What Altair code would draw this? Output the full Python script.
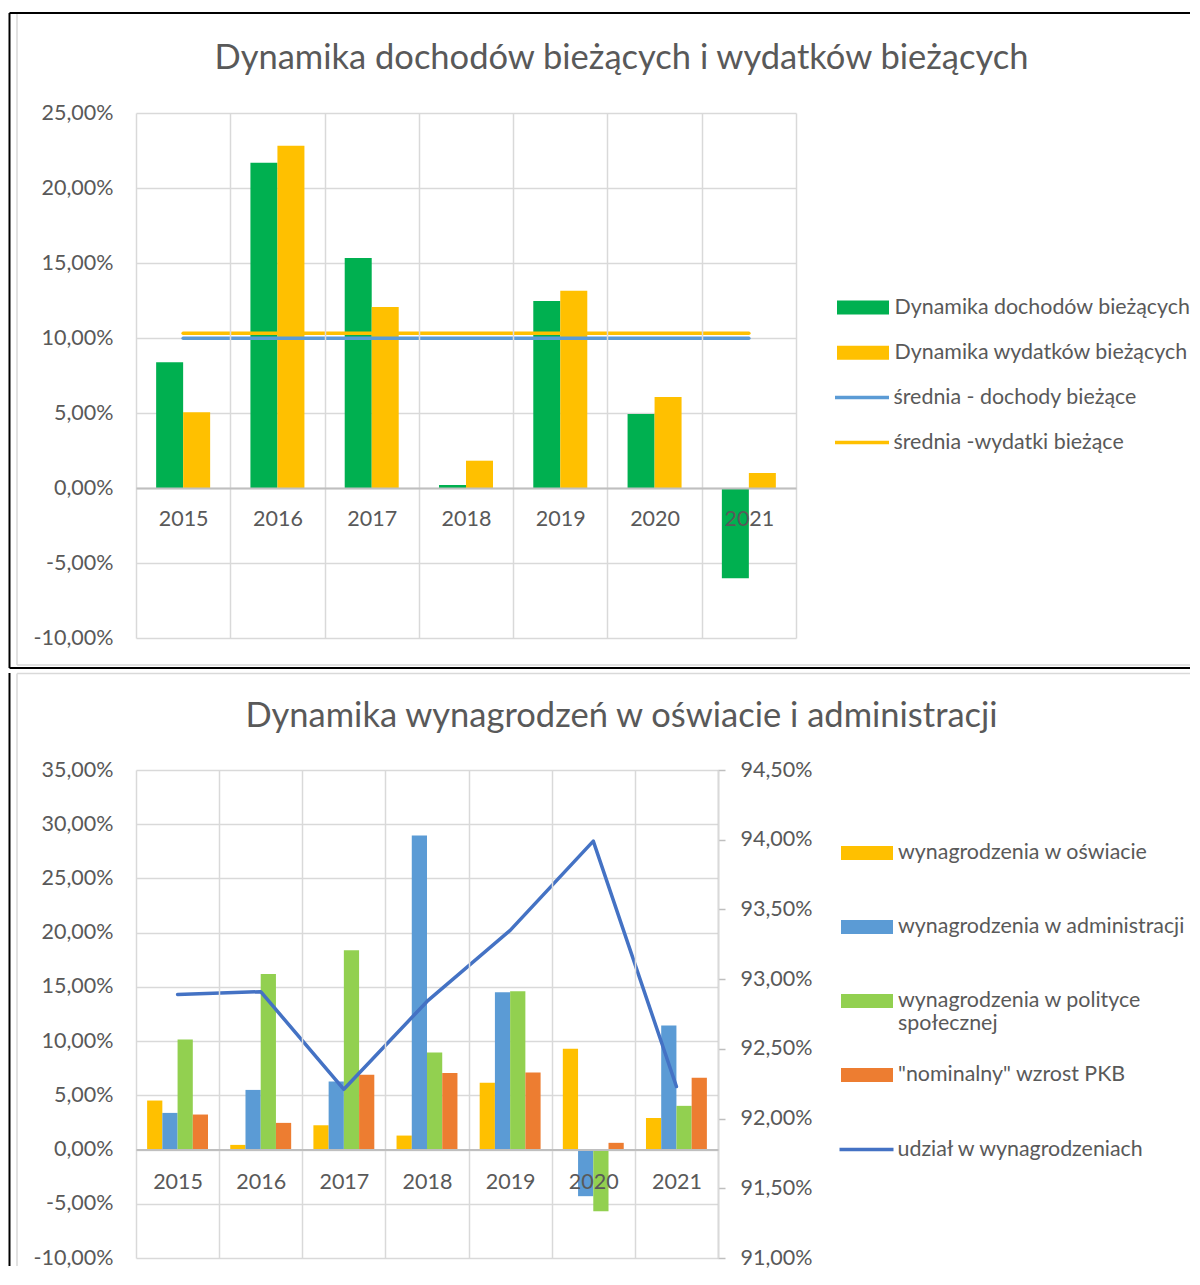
import altair as alt
import pandas as pd

# ---------------- data ----------------
years = ["2015", "2016", "2017", "2018", "2019", "2020", "2021"]

# chart 1
bar1_series = ["Dynamika dochodów bieżących", "Dynamika wydatków bieżących"]
income_dyn = [8.38, 21.69, 15.33, 0.20, 12.47, 4.93, -6.02]
expense_dyn = [5.05, 22.82, 12.07, 1.82, 13.15, 6.07, 1.00]
mean1_series = ["średnia - dochody bieżące", "średnia -wydatki bieżące"]
mean_values = [9.98, 10.31]
bar1_colors = ["#00b050", "#ffc000"]
mean1_colors = ["#5b9bd5", "#ffc000"]
y1_ticks = [-10, -5, 0, 5, 10, 15, 20, 25]
title1 = "Dynamika dochodów bieżących i wydatków bieżących"

# chart 2
bar2_series = ["wynagrodzenia w oświacie", "wynagrodzenia w administracji",
               "wynagrodzenia w polityce społecznej", "\"nominalny\" wzrost PKB"]
edu = [4.52, 0.43, 2.24, 1.29, 6.15, 9.29, 2.92]
adm = [3.38, 5.50, 6.27, 28.97, 14.51, -4.30, 11.44]
soc = [10.15, 16.20, 18.39, 8.95, 14.60, -5.69, 4.03]
gdp = [3.23, 2.46, 6.89, 7.07, 7.10, 0.62, 6.61]
bar2_colors = ["#ffc000", "#5b9bd5", "#92d050", "#ed7d31"]
line2_series = ["udział w wynagrodzeniach"]
share = [92.89, 92.91, 92.21, 92.84, 93.35, 93.99, 92.23]
line2_colors = ["#4472c4"]
y2_ticks = [-10, -5, 0, 5, 10, 15, 20, 25, 30, 35]
y2r_ticks = [91.0, 91.5, 92.0, 92.5, 93.0, 93.5, 94.0, 94.5]
title2 = "Dynamika wynagrodzeń w oświacie i administracji"

# ---------------- tables ----------------
bars1 = pd.DataFrame(
    [{"year": y, "series": bar1_series[0], "value": v} for y, v in zip(years, income_dyn)]
    + [{"year": y, "series": bar1_series[1], "value": v} for y, v in zip(years, expense_dyn)]
)
means1 = pd.DataFrame(
    [{"year": y, "series": s, "value": m} for s, m in zip(mean1_series, mean_values) for y in years]
)
bars2 = pd.DataFrame(
    [{"year": y, "series": s, "value": v}
     for s, vals in zip(bar2_series, [edu, adm, soc, gdp]) for y, v in zip(years, vals)]
)
line2 = pd.DataFrame([{"year": y, "series": line2_series[0], "value": v} for y, v in zip(years, share)])

# ---------------- style ----------------
FONT = "Lato"
TXT = "#595959"
GRID = "#d9d9d9"
AXIS_FS = 21.5
LEG_FS = 21.4
TITLE_FS = 34.5
FMT = "replace(replace(format(datum.value, '.2f'), '.', ','), '\u2212', '-') + '%'"
RECT_PATH = "M-1,-0.27H1V0.27H-1Z"

W1, H1 = 660, 525
Y1_MIN, Y1_MAX = -10, 25
W2, H2 = 582, 488
Y2_MIN, Y2_MAX = -10, 35
Y2R_MIN, Y2R_MAX = 91.0, 94.5
FRAME_L, FRAME_R = -126.5, 1054


def x_enc(height, ymin, ymax, label_pad):
    return alt.X(
        "year:N", sort=years,
        scale=alt.Scale(domain=years, paddingInner=0, paddingOuter=0),
        axis=alt.Axis(title=None, labelAngle=0, tickBand="extent", grid=True,
                      gridColor=GRID, gridWidth=1.5, ticks=False,
                      domainColor="#bfbfbf", domainWidth=2, zindex=1,
                      labelFont=FONT, labelFontSize=AXIS_FS, labelColor=TXT,
                      labelPadding=label_pad,
                      offset=-(height * (0 - ymin) / (ymax - ymin))),
    )


def y_enc(ymin, ymax, ticks):
    return alt.Y(
        "value:Q",
        scale=alt.Scale(domain=[ymin, ymax], nice=False, zero=False),
        axis=alt.Axis(title=None, values=ticks, labelExpr=FMT, grid=True,
                      gridColor=GRID, gridWidth=1.5, domain=False, ticks=False,
                      tickSize=0, labelPadding=23, labelFont=FONT,
                      labelFontSize=AXIS_FS, labelColor=TXT),
    )


def frame_rule(color, width, **enc):
    return alt.Chart(alt.Data(values=[{}])).mark_rule(color=color, strokeWidth=width).encode(**enc)


def title_text(text, x, y):
    return alt.Chart(alt.Data(values=[{}])).mark_text(
        text=text, font=FONT, fontSize=TITLE_FS, color=TXT, align="center", baseline="alphabetic"
    ).encode(x=alt.value(x), y=alt.value(y))


def bar_legend(x, y, label_offset, row_padding, label_expr=None):
    kw = dict(title=None, orient="none", legendX=x, legendY=y, padding=0,
              symbolType=RECT_PATH, symbolSize=2704, symbolStrokeWidth=0,
              labelFont=FONT, labelFontSize=LEG_FS, labelColor=TXT, labelLimit=600,
              labelOffset=label_offset, rowPadding=row_padding, gridAlign="all")
    if label_expr:
        kw["labelExpr"] = label_expr
    return alt.Legend(**kw)


def line_legend(x, y, label_offset, row_padding):
    return alt.Legend(title=None, orient="none", legendX=x, legendY=y, padding=0,
                      symbolType="stroke", symbolSize=2916, symbolStrokeWidth=3.5,
                      labelFont=FONT, labelFontSize=LEG_FS, labelColor=TXT, labelLimit=600,
                      labelOffset=label_offset, rowPadding=row_padding)


# ---------------- chart 1 ----------------
x1 = x_enc(H1, Y1_MIN, Y1_MAX, 20)
y1 = y_enc(Y1_MIN, Y1_MAX, y1_ticks)

c1_bars = alt.Chart(bars1).mark_bar().encode(
    x=x1, y=y1,
    xOffset=alt.XOffset("series:N", sort=bar1_series,
                        scale=alt.Scale(domain=bar1_series, paddingInner=0, paddingOuter=0.746)),
    color=alt.Color("series:N", sort=bar1_series,
                    scale=alt.Scale(domain=bar1_series, range=bar1_colors),
                    legend=bar_legend(701, 168.5, 5.5, 8.3)),
)
c1_lines = alt.Chart(means1).mark_line(strokeWidth=3.5, strokeCap="round").encode(
    x=x1, y=y1,
    stroke=alt.Stroke("series:N", sort=mean1_series,
                      scale=alt.Scale(domain=mean1_series, range=mean1_colors),
                      legend=line_legend(697, 255.5, 2.5, 5)),
)
c1_frame = [
    frame_rule("#000000", 2, x=alt.value(FRAME_L), x2=alt.value(FRAME_R), y=alt.value(-100)),
    frame_rule("#000000", 2, x=alt.value(FRAME_L), y=alt.value(-100), y2=alt.value(555)),
    frame_rule("#000000", 2, x=alt.value(FRAME_L), x2=alt.value(FRAME_R), y=alt.value(555)),
    frame_rule(GRID, 1.5, x=alt.value(-119), y=alt.value(-99), y2=alt.value(552)),
    frame_rule(GRID, 1.5, x=alt.value(-119), x2=alt.value(FRAME_R), y=alt.value(552)),
]
chart1 = alt.layer(
    c1_bars, c1_lines, *c1_frame, title_text(title1, 621.5 - 136, -44)
).properties(width=W1, height=H1)

# ---------------- chart 2 ----------------
x2 = x_enc(H2, Y2_MIN, Y2_MAX, 22)
y2 = y_enc(Y2_MIN, Y2_MAX, y2_ticks)
y2r = alt.Y(
    "value:Q",
    scale=alt.Scale(domain=[Y2R_MIN, Y2R_MAX], nice=False, zero=False),
    axis=alt.Axis(title=None, orient="right", values=y2r_ticks, labelExpr=FMT, grid=False,
                  domain=True, domainColor="#bfbfbf", domainWidth=1.5, ticks=True,
                  tickColor="#bfbfbf", tickWidth=1.5, tickSize=7, labelPadding=15,
                  labelFont=FONT, labelFontSize=AXIS_FS, labelColor=TXT),
)
polit = bar2_series[2]
split_expr = "datum.label == '%s' ? ['wynagrodzenia w polityce', 'społecznej'] : datum.label" % polit

c2_bars = alt.Chart(bars2).mark_bar().encode(
    x=x2, y=y2,
    xOffset=alt.XOffset("series:N", sort=bar2_series,
                        scale=alt.Scale(domain=bar2_series, paddingInner=0, paddingOuter=0.73)),
    color=alt.Color("series:N", sort=bar2_series,
                    scale=alt.Scale(domain=bar2_series, range=bar2_colors),
                    legend=bar_legend(705, 57, 5, 14, split_expr)),
)
c2_line = alt.Chart(line2).mark_line(strokeWidth=3.5, strokeCap="round", strokeJoin="round").encode(
    x=x2, y=y2r,
    stroke=alt.Stroke("series:N", scale=alt.Scale(domain=line2_series, range=line2_colors),
                      legend=line_legend(701.5, 350.5, 2, 4.5)),
)
FRAME_B = 496
c2_frame = [
    frame_rule("#000000", 2, x=alt.value(FRAME_L), y=alt.value(-97), y2=alt.value(FRAME_B)),
    frame_rule(GRID, 1.5, x=alt.value(-119), x2=alt.value(FRAME_R), y=alt.value(-96.5)),
    frame_rule(GRID, 1.5, x=alt.value(-119), y=alt.value(-96.5), y2=alt.value(FRAME_B)),
]
chart2 = alt.layer(
    c2_bars, c2_line, *c2_frame, title_text(title2, 621.5 - 136, -43)
).resolve_scale(y="independent").properties(width=W2, height=H2)

chart = alt.vconcat(chart1, chart2, spacing=1).resolve_scale(
    color="independent", stroke="independent", x="independent", y="independent",
    xOffset="independent",
).properties(
    padding={"left": 0, "top": 3, "right": 0, "bottom": 0},
    background="#ffffff",
).configure_view(stroke="transparent")

chart.save("out.html", embed_options={"renderer": "svg", "actions": False})
